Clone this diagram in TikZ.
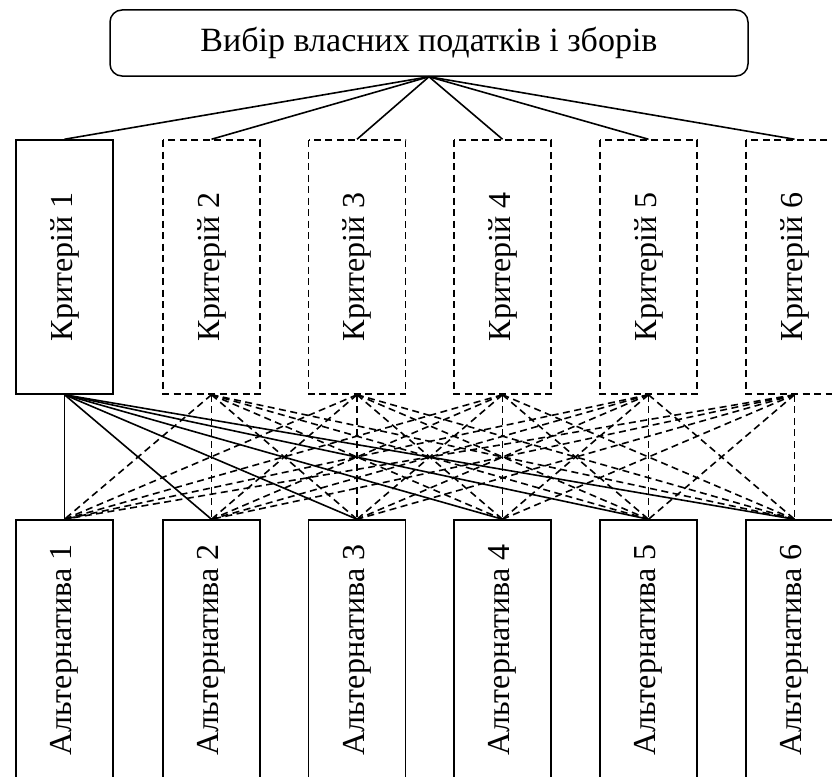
\documentclass[tikz,border=0pt]{standalone}
\usepackage{fontspec}
\setmainfont{Liberation Serif}
\begin{document}
\begin{tikzpicture}[x=1pt,y=-1pt,
  every node/.style={font=\fontsize{32}{36}\selectfont, inner sep=0pt, line width=1.5pt},
  goalbox/.style={draw, rounded corners=12pt, minimum width=638pt, minimum height=66pt,
    font=\fontsize{34}{38}\selectfont},
  critbox/.style={draw, rotate=90, minimum width=254pt, minimum height=97pt},
  critdash/.style={critbox, dashed, dash pattern=on 7pt off 4.5pt},
  altbox/.style={draw, rotate=90, minimum width=260pt, minimum height=97pt},
  link/.style={line width=1.6pt},
  dlink/.style={line width=1.6pt, dash pattern=on 7pt off 4.5pt}]
\useasboundingbox (0,0) rectangle (832,776);
\clip (0,0) rectangle (832,776);

% goal
\node[goalbox] (goal) at (429,43) {Вибір власних податків і зборів};

% criteria
\node[critbox]  (c1) at (64.5,267) {Критерій 1};
\node[critdash] (c2) at (211.5,267) {Критерій 2};
\node[critdash] (c3) at (357,267) {Критерій 3};
\node[critdash] (c4) at (502.5,267) {Критерій 4};
\node[critdash] (c5) at (648.5,267) {Критерій 5};
\node[critdash] (c6) at (794.5,267) {Критерій 6};

% alternatives
\node[altbox] (a1) at (64.5,650) {Альтернатива 1};
\node[altbox] (a2) at (211.5,650) {Альтернатива 2};
\node[altbox] (a3) at (357,650) {Альтернатива 3};
\node[altbox] (a4) at (502.5,650) {Альтернатива 4};
\node[altbox] (a5) at (648.5,650) {Альтернатива 5};
\node[altbox] (a6) at (794.5,650) {Альтернатива 6};

% goal to criteria (rotated nodes: west anchor is the bottom, east anchor the top)
\foreach \k in {1,...,6}
  \draw[link] (goal.south) -- (c\k.east);

% criterion 1 to every alternative
\foreach \j in {1,...,6}
  \draw[link] (c1.west) -- (a\j.east);

% remaining criteria to every alternative
\foreach \k in {2,...,6}
  \foreach \j in {1,...,6}
    \draw[dlink] (c\k.west) -- (a\j.east);
\end{tikzpicture}
\end{document}
